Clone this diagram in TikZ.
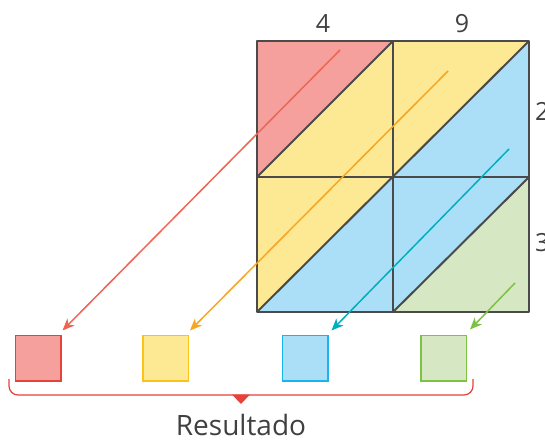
\documentclass[tikz,border=0pt]{standalone}
\usepackage{fontspec}
\setmainfont{Open Sans}
\usetikzlibrary{arrows.meta}
\definecolor{gridgray}{HTML}{4A4A4A}
\definecolor{textgray}{HTML}{404040}
\definecolor{redfill}{HTML}{F5A09D}
\definecolor{yellowfill}{HTML}{FDE894}
\definecolor{bluefill}{HTML}{ABDFF8}
\definecolor{greenfill}{HTML}{D6E8C3}
\definecolor{redline}{HTML}{E8413A}
\definecolor{yellowline}{HTML}{FDC217}
\definecolor{blueline}{HTML}{1AB3EC}
\definecolor{greenline}{HTML}{7DC243}
\definecolor{redarrow}{HTML}{EF6553}
\definecolor{orangearrow}{HTML}{F5A623}
\definecolor{tealarrow}{HTML}{00AFBF}
\definecolor{greenarrow}{HTML}{7CC242}

\begin{document}
\begin{tikzpicture}[x=1pt,y=-1pt,
  grid/.style={draw=gridgray,line width=2pt,line join=round},
  digit/.style={text=textgray,inner sep=0pt,font=\fontsize{25}{27}\selectfont},
  result/.style={minimum size=45.5pt,inner sep=0pt,line width=1.5pt},
  pointer/.style={line width=1.5pt,-{Stealth[length=12pt,width=10pt,inset=3.5pt]}}]
\useasboundingbox (0,0) rectangle (545,439);

% Cells
\fill[redfill] (257,41) -- (393,41) -- (257,177) -- cycle;
\fill[yellowfill] (393,41) -- (393,177) -- (257,177) -- cycle;
\fill[yellowfill] (393,41) -- (529,41) -- (393,177) -- cycle;
\fill[bluefill] (529,41) -- (529,177) -- (393,177) -- cycle;
\fill[yellowfill] (257,177) -- (393,177) -- (257,312) -- cycle;
\fill[bluefill] (393,177) -- (393,312) -- (257,312) -- cycle;
\fill[bluefill] (393,177) -- (529,177) -- (393,312) -- cycle;
\fill[greenfill] (529,177) -- (529,312) -- (393,312) -- cycle;

% Grid
\draw[grid] (257,41) rectangle (529,312);
\draw[grid] (393,41) -- (393,312);
\draw[grid] (257,177) -- (529,177);
\draw[grid] (257,177) -- (393,41);
\draw[grid] (257,312) -- (529,41);
\draw[grid] (393,312) -- (529,177);

% Factors
\node[digit] (f4) at (323,24) {4};
\node[digit] (f9) at (462,24) {9};
\node[digit,anchor=west] (f2) at (535,111) {2};
\node[digit,anchor=west] (f3) at (535,243) {3};

% Result boxes
\node[result,draw=redline,fill=redfill] (sqR) at (38,358) {};
\node[result,draw=yellowline,fill=yellowfill] (sqY) at (165.5,358) {};
\node[result,draw=blueline,fill=bluefill] (sqB) at (305,358) {};
\node[result,draw=greenline,fill=greenfill] (sqG) at (443.5,358) {};

% Arrows
\coordinate (sR) at (340,50);
\coordinate (sY) at (448,71);
\coordinate (sB) at (509,149);
\coordinate (sG) at (515,283);
\draw[pointer,redarrow] (sR) -- ([shift={(1pt,4pt)}]sqR.north east);
\draw[pointer,orangearrow] (sY) -- ([shift={(1pt,4pt)}]sqY.north east);
\draw[pointer,tealarrow] (sB) -- ([shift={(3pt,4pt)}]sqB.north east);
\draw[pointer,greenarrow] (sG) -- ([shift={(3pt,5pt)}]sqG.north east);

% Brace
\draw[redline,line width=1.2pt,rounded corners=9pt] (9,379) -- (9,395) -- (473,395) -- (473,379);
\fill[redline] (232,394.5) -- (250,394.5) -- (241,404) -- cycle;
\node[text=textgray,inner sep=0pt,anchor=base,font=\fontsize{28}{30}\selectfont] (res) at (241,435) {Resultado};

\end{tikzpicture}
\end{document}
